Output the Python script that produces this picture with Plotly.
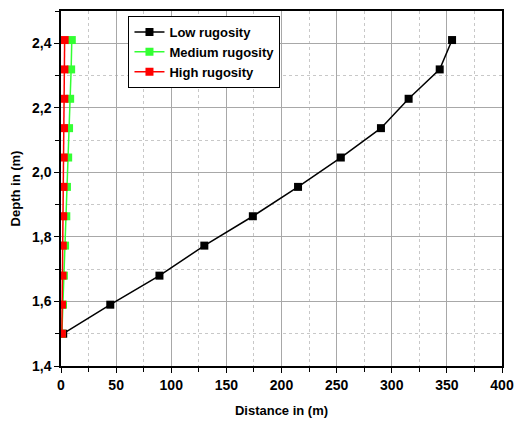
import plotly.graph_objects as go

depth = [1.50, 1.59, 1.68, 1.773, 1.864, 1.955, 2.046, 2.137, 2.228, 2.319, 2.41]
low = [2, 44.7, 89.3, 130, 174, 215, 253.8, 290.2, 315.3, 343.5, 354.7]
medium = [0.8, 1.8, 2.6, 3.7, 4.8, 5.4, 6.5, 7.3, 8.3, 9.2, 9.8]
high = [0.8, 1.0, 1.4, 1.6, 2.0, 2.3, 2.5, 2.7, 3.0, 3.1, 3.3]
names = ["Low rugosity", "Medium rugosity", "High rugosity"]
colors = ["#000000", "#33ff33", "#ff0000"]

FONT = "Liberation Sans, Arial, sans-serif"

fig = go.Figure()
for xs, nm, c in zip([low, medium, high], names, colors):
    fig.add_trace(go.Scatter(
        x=xs, y=depth, name=nm, mode="lines+markers",
        line=dict(color=c, width=1.5),
        marker=dict(symbol="square", size=8, color=c),
    ))

axis_common = dict(
    showline=True, linecolor="black", linewidth=1.5, mirror=True,
    ticks="outside", ticklen=5, tickcolor="black", tickwidth=1,
    showgrid=True, gridcolor="#a8a8a8", gridwidth=1,
    zeroline=False, automargin=False,
    tickfont=dict(family=FONT, size=14, color="black", weight="bold"),
)

fig.update_layout(
    width=515, height=421,
    margin=dict(l=61, r=13, t=11, b=55),
    paper_bgcolor="white", plot_bgcolor="white",
    separators=",.",
    font=dict(family=FONT, color="black"),
    showlegend=True,
    legend=dict(
        x=0.153, y=0.986, xanchor="left", yanchor="top",
        bordercolor="black", borderwidth=1, bgcolor="white",
        font=dict(family=FONT, size=13, color="black", weight="bold"),
        tracegroupgap=0, itemwidth=30,
    ),
    xaxis=dict(
        range=[0, 400], dtick=50, **axis_common,
        minor=dict(dtick=25, showgrid=True, gridcolor="#c8c8c8", griddash="dot",
                   ticks="outside", ticklen=4, tickcolor="black"),
        title=dict(text="Distance in (m)", standoff=14,
                   font=dict(family=FONT, size=13, color="black", weight="bold")),
    ),
    yaxis=dict(
        range=[1.4, 2.5], dtick=0.2, tick0=1.4, tickformat=".1f", **axis_common,
        minor=dict(dtick=0.1, showgrid=True, gridcolor="#c8c8c8", griddash="dot",
                   ticks="outside", ticklen=4, tickcolor="black"),
        title=dict(text="Depth in (m)", standoff=8,
                   font=dict(family=FONT, size=13, color="black", weight="bold")),
    ),
)

fig.write_html("out.html")
